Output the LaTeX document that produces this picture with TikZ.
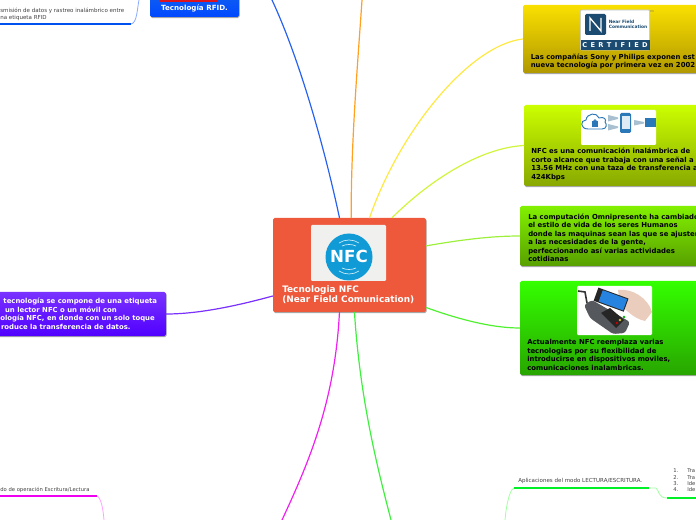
\documentclass[tikz,border=0pt]{standalone}
\usepackage{fontspec}
\setmainfont{DejaVu Sans}
\usetikzlibrary{shadows}
\definecolor{cOrange}{HTML}{FFA020}
\definecolor{nfcblue}{HTML}{109AD6}
\definecolor{logoblue}{HTML}{1B4B70}
\definecolor{iconblue}{HTML}{2A78B8}
\definecolor{redT}{HTML}{D4503A}\definecolor{redM}{HTML}{EE583B}\definecolor{redB}{HTML}{C84830}
\definecolor{yelT}{HTML}{FAE000}\definecolor{yelB}{HTML}{B09800}
\definecolor{limT}{HTML}{CCFF00}\definecolor{limB}{HTML}{88A800}
\definecolor{lgrT}{HTML}{82F000}\definecolor{lgrB}{HTML}{58A000}
\definecolor{bgrT}{HTML}{34FF00}\definecolor{bgrB}{HTML}{28A500}
\definecolor{purT}{HTML}{7A32FF}\definecolor{purB}{HTML}{5000FF}
\definecolor{bluT}{HTML}{1060F0}\definecolor{bluB}{HTML}{0048FF}
\definecolor{lkBlue}{HTML}{2A62F0}\definecolor{lkYel}{HTML}{FFE840}\definecolor{lkLime}{HTML}{D0F53C}
\definecolor{lkLgr}{HTML}{9CF03C}\definecolor{lkBgr}{HTML}{50F030}\definecolor{lkPur}{HTML}{7A30FF}
\definecolor{lkMag}{HTML}{F020F0}\definecolor{lkGrn}{HTML}{40F040}
\definecolor{subPink}{HTML}{FFA0FF}\definecolor{subGreen}{HTML}{A0FFA0}\definecolor{subBlue}{HTML}{8CAAFF}
\definecolor{ruleMag}{HTML}{F000F0}\definecolor{ruleGrn}{HTML}{00F028}\definecolor{ruleBlu}{HTML}{0050F0}
\definecolor{badgeGray}{HTML}{F0F0EE}\definecolor{frameGray}{HTML}{BEC3C8}
\definecolor{skin}{HTML}{EBCDBE}\definecolor{phoneBlue}{HTML}{2684E0}\definecolor{stripRed}{HTML}{DC141E}
\definecolor{termGray}{HTML}{55585C}\definecolor{waveGray}{HTML}{A8C0D0}
\pgfdeclareverticalshading{centrefade}{100bp}{color(0bp)=(redB); color(12bp)=(redM); color(85bp)=(redM); color(100bp)=(redT)}
\tikzset{
  x=0.75pt,y=-0.75pt,
  mapbox/.style={rectangle,rounded corners=1.2pt,inner sep=0pt,
    drop shadow={shadow xshift=0.4pt,shadow yshift=-0.8pt,opacity=0.35,fill=black}},
  boxtext/.style={font=\fontsize{5.17}{6.4}\selectfont\bfseries,align=left,inner sep=0pt,anchor=north west},
  smalltext/.style={font=\fontsize{3.95}{4.8}\selectfont,text=black!75,inner sep=0pt,anchor=west},
  pic/.style={fill=white,rounded corners=0.8pt,draw=none},
  link/.style={line width=0.9pt,line cap=round},
  rule/.style={line width=1.6pt},
}
\begin{document}
\begin{tikzpicture}
\useasboundingbox (0,0) rectangle (696,520);
\clip (0,0) rectangle (696,520);

% nodes
\node[mapbox,shading=centrefade,minimum width=114.75pt,minimum height=70.5pt] (center) at (349.5,265) {};
\node[mapbox,top color=yelT,bottom color=yelB,minimum width=132.75pt,minimum height=51pt] (yel) at (611.5,39) {};
\node[mapbox,top color=limT,bottom color=limB,minimum width=132pt,minimum height=60.75pt] (lime) at (612,145.5) {};
\node[mapbox,top color=lgrT,bottom color=lgrB,minimum width=135pt,minimum height=45pt] (lgreen) at (610,236) {};
\node[mapbox,top color=bgrT,bottom color=bgrB,minimum width=135pt,minimum height=70.5pt] (bgreen) at (610,328) {};
\node[mapbox,top color=purT,bottom color=purB,minimum width=127.5pt,minimum height=33pt] (purple) at (81,314) {};
\node[mapbox,top color=bluT,bottom color=bluB,minimum width=66.75pt,minimum height=18pt] (rfid) at (194.5,5) {};

% free ends
\coordinate (topblue) at (272,0);
\coordinate (toporange) at (362,0);
\coordinate (botmag) at (282,520);
\coordinate (botgreen) at (391,520);
\coordinate (ruleLa) at (0,496);
\coordinate (ruleLb) at (97,496);
\coordinate (ruleLc) at (104,520);
\coordinate (ruleRa) at (514,488);
\coordinate (ruleRb) at (649,488);
\coordinate (ruleRc) at (505,520);
\coordinate (ruleRd) at (667,498);
\coordinate (ruleRe) at (696,498);
\coordinate (ruleTa) at (0,24);
\coordinate (ruleTb) at (131,24);
\coordinate (ruleTc) at (139,0);

% connectors
\draw[link,color=lkBlue] (center.102) .. controls (325,150) and (300,60) .. (topblue);
\draw[link,color=cOrange] (center.88) .. controls (351,140) and (358,60) .. (toporange);
\draw[link,color=lkYel] (center.67) .. controls (400,130) and (470,45) .. (yel.west);
\draw[link,color=lkLime] (center.48.5) .. controls (430,180) and (480,148) .. (lime.west);
\draw[link,color=lkLgr] (center.14.5) .. controls (460,240) and (490,236) .. (lgreen.west);
\draw[link,color=lkBgr] (center.-29) .. controls (455,318) and (490,328) .. (bgreen.west);
\draw[link,color=lkPur] (center.202.6) .. controls (240,305) and (200,314) .. (purple.east);
\draw[link,color=lkMag] (center.258) .. controls (335,400) and (310,460) .. (botmag);
\draw[link,color=lkGrn] (center.276.5) .. controls (360,400) and (378,470) .. (botgreen);
% sub-branches
\draw[line width=0.6pt,color=subPink] (ruleLb) .. controls (101,498) and (103,508) .. (ruleLc);
\draw[rule,color=ruleMag] (ruleLa) -- (ruleLb);
\draw[line width=0.6pt,color=subGreen] (ruleRa) .. controls (509,490) and (506,508) .. (ruleRc);
\draw[line width=0.6pt,color=subGreen] (ruleRb) -- (656,488) .. controls (659,490) and (658,498) .. (ruleRd);
\draw[rule,color=ruleGrn] (ruleRa) -- (ruleRb);
\draw[rule,color=ruleGrn] (ruleRd) -- (ruleRe);
\draw[line width=0.6pt,color=subBlue] (ruleTb) .. controls (137,23) and (137,10) .. (ruleTc);
\draw[rule,color=ruleBlu] (ruleTa) -- (ruleTb);

% centre badge
\node[pic,fill=badgeGray,minimum width=56.25pt,minimum height=42pt,inner sep=0pt] (badge) at (348.5,253) {};
\node[circle,fill=nfcblue,minimum size=35.25pt,inner sep=0pt] (disc) at (349,257) {};
\node[inner sep=0pt,text=white,font=\fontsize{12.5}{12.5}\selectfont\bfseries] (nfcword) at (349,256.5) {NFC};
\draw[white!80!nfcblue,line width=0.5pt] (339,243) .. controls (345,239) and (353,239) .. (359,243);
\draw[white!80!nfcblue,line width=0.5pt] (342,246) .. controls (346,244) and (352,244) .. (356,246);
\draw[white!80!nfcblue,line width=0.5pt] (339,271) .. controls (345,275) and (353,275) .. (359,271);
\draw[white!80!nfcblue,line width=0.5pt] (342,268) .. controls (346,270) and (352,270) .. (356,268);
\node[inner sep=0pt,anchor=north west,text=white,align=left,font=\fontsize{6.7}{8.2}\selectfont\bfseries] (ctitle) at (282,285) {Tecnologia NFC\\(Near Field Comunication)};

% certified logo
\node[pic,fill=white,draw=frameGray,line width=0.5pt,minimum width=52pt,minimum height=30pt,inner sep=0pt] (cert) at (615,30) {};
\fill[logoblue] (580.5,40) rectangle (649.5,50);
\fill[logoblue,rounded corners=1pt] (585,14) rectangle (606,35);
\draw[white,line width=1pt] (590,31) -- (590,18) -- (601,31) -- (601,18);
\node[inner sep=0pt,anchor=west,text=logoblue,align=left,font=\fontsize{3.3}{4.2}\selectfont\bfseries] (certa) at (608.5,24.5) {Near Field\\Communication};
\node[inner sep=0pt,text=white,font=\fontsize{5}{5}\selectfont\bfseries] (certb) at (615,45) {C\,\,\,E\,\,\,R\,\,\,T\,\,\,I\,\,\,F\,\,\,I\,\,\,E\,\,\,D};
\node[inner sep=0pt,text=black!60,font=\fontsize{1.8}{2}\selectfont] (certtm) at (652,11.5) {TM};
\node[boxtext,text=black] (yeltext) at (530.5,53.5) {Las compañías Sony y Philips exponen est\\nueva tecnología por primera vez en 2002};

% cloud picture
\node[pic,minimum width=56.25pt,minimum height=26.25pt,inner sep=0pt] (cloudpic) at (618.5,127.5) {};
\draw[iconblue,line width=0.7pt,fill=white] (588,129) .. controls (580,129) and (580,120) .. (586,120) .. controls (587,113) and (597,112) .. (599,118) .. controls (604,116) and (607,120) .. (605,122) .. controls (607,124) and (607,129) .. (602,129) -- cycle;
\fill[iconblue] (592,121.5) rectangle (598,127);
\draw[iconblue,line width=0.6pt] (593.3,121.5) arc[start angle=180,end angle=360,radius=1.7];
\fill[iconblue,rounded corners=1pt] (620,113) rectangle (631,133);
\fill[white!85!iconblue] (621.5,116) rectangle (629.5,129);
\fill[waveGray] (608,115) -- (618,117.5) -- (618,119) -- (608,121.5) -- cycle;
\fill[waveGray] (608,124) -- (618,126.5) -- (618,128) -- (608,130.5) -- cycle;
\fill[waveGray] (634,120) -- (644,122) -- (644,123.5) -- (634,125.5) -- cycle;
\fill[iconblue] (645,118) rectangle (656,127);
\node[boxtext,text=black] (limetext) at (531,148) {NFC es una comunicación inalámbrica de\\corto alcance que trabaja con una señal a\\13.56 MHz con una taza de transferencia a\\424Kbps};

% light green text
\node[boxtext,text=black] (lgtext) at (528,213.5) {La computación Omnipresente ha cambiado\\el estilo de vida de los seres Humanos\\donde las maquinas sean las que se ajusten\\a las necesidades de la gente,\\perfeccionando así varias actividades\\cotidianas};

% payment terminal
\node[pic,minimum width=56.25pt,minimum height=36.75pt,inner sep=0pt] (termpic) at (614.5,310.5) {};
\draw[black!80,line width=1.2pt] (578,291) -- (585,292) -- (587,303);
\fill[termGray,rounded corners=2pt] (584,305) -- (592,300) -- (630,322) -- (625,333) -- (613,334) -- (590,318) -- cycle;
\fill[black!85] (601,313) -- (610,308) -- (624,320) -- (616,328) -- cycle;
\fill[skin] (618,290) .. controls (632,288) and (648,298) .. (652,312) -- (645,321) .. controls (632,318) and (628,310) .. (620,306) -- cycle;
\fill[black!85,rotate around={-20:(612,300)}] (595,293) rectangle (627,307);
\fill[phoneBlue,rotate around={-20:(612,300)}] (600,294) rectangle (626,306);
\fill[red!80!black] (617,323) circle[radius=1.4];
\fill[yellow!80!black] (620,320) circle[radius=1.4];
\fill[green!70!black] (624,317) circle[radius=1.4];
\node[boxtext,text=black] (bgtext) at (527,339) {Actualmente NFC reemplaza varias\\tecnologias por su flexibilidad de\\introducirse en dispositivos moviles,\\comunicaciones inalambricas.};

% purple text
\node[boxtext,text=white] (ptext) at (0,298) {\hspace{2.4pt}tecnología se compone de una etiqueta\\\hspace{3.6pt}un lector NFC o un móvil con\\ología NFC, en donde con un solo toque\\\hspace{0.6pt}roduce la transferencia de datos.};

% rfid
\fill[stripRed] (160,0) rectangle (217,2);
\node[inner sep=0pt,text=white,font=\fontsize{5.35}{6.5}\selectfont\bfseries] (rfidtext) at (194.5,8.7) {Tecnología RFID.};

% small texts
\node[smalltext,align=left,font=\fontsize{4.15}{4.8}\selectfont] (toptext) at (0,14.5) {smisión de datos y rastreo inalámbrico entre\\na etiqueta RFID};
\node[smalltext,font=\fontsize{4.15}{4.8}\selectfont] (rtext) at (518,481) {Aplicaciones del modo LECTURA/ESCRITURA.};
\node[smalltext] (ltext) at (0,490) {do de operación Escritura/Lectura};
\foreach \n/\t/\y in {1/Tra/471,2/Tra/478,3/Ide/484,4/Ide/490}{
  \node[smalltext] (num\n) at (673,\y) {\n.};
  \node[smalltext] (item\n) at (687,\y) {\t};
}
\end{tikzpicture}
\end{document}
